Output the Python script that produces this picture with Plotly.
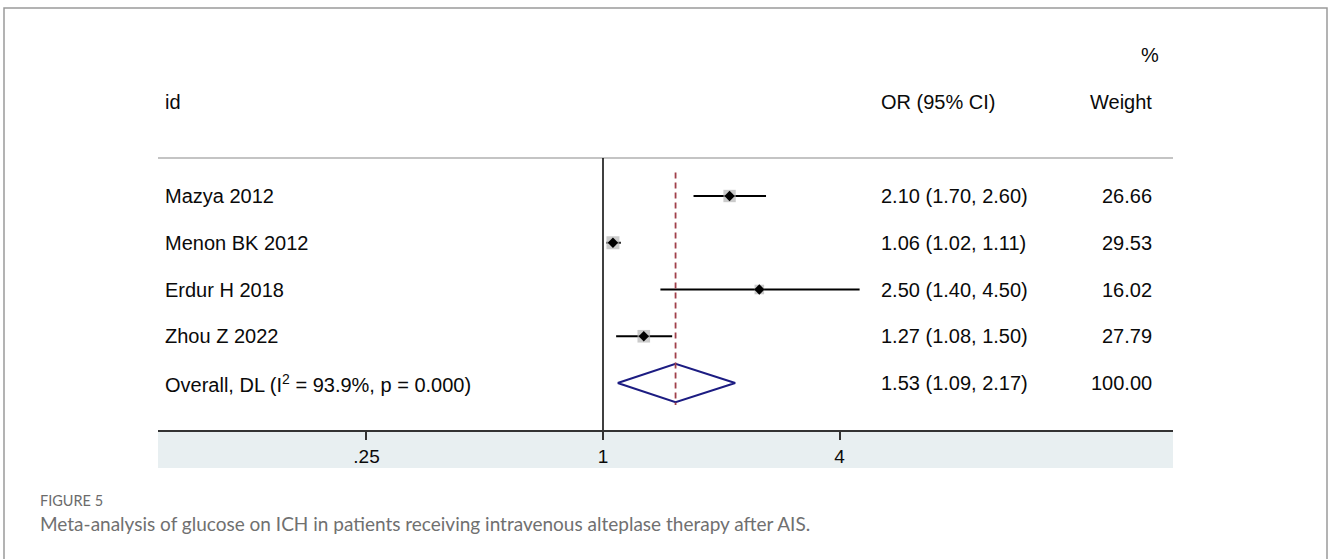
import math
import plotly.graph_objects as go

# ---------------- data ----------------
studies = ["Mazya 2012", "Menon BK 2012", "Erdur H 2018", "Zhou Z 2022"]
or_est = [2.10, 1.06, 2.50, 1.27]
ci_low = [1.70, 1.02, 1.40, 1.08]
ci_high = [2.60, 1.11, 4.50, 1.50]
weights = [26.66, 29.53, 16.02, 27.79]

overall_label = "Overall, DL (I<sup>2</sup> = 93.9%, p = 0.000)"
overall_est = 1.53
overall_low = 1.09
overall_high = 2.17
overall_weight = 100.00

tick_vals = [0.25, 1, 4]
tick_text = [".25", "1", "4"]

caption_head = "FIGURE 5"
caption_text = "Meta-analysis of glucose on ICH in patients receiving intravenous alteplase therapy after AIS."

# ---------------- geometry helpers ----------------
W, H = 1328, 559
def px(x):
    return x / W
def py(y):
    return 1 - y / H

FONT = "Liberation Sans, Arial, sans-serif"
TXT = "#0a0a0a"
CAP_FONT = "Lato, Open Sans, sans-serif"

rows = list(range(1, len(studies) + 1))
overall_row = len(studies) + 1

fig = go.Figure()

# CI lines
cx, cy = [], []
for r, lo, hi in zip(rows, ci_low, ci_high):
    cx += [lo, hi, None]
    cy += [r, r, None]
fig.add_trace(go.Scatter(x=cx, y=cy, mode="lines",
                         line=dict(color="#000000", width=2),
                         hoverinfo="skip", showlegend=False))

# weight boxes
fig.add_trace(go.Scatter(x=or_est, y=rows, mode="markers",
                         marker=dict(symbol="square", color="#b5b5b5",
                                     size=[2.39 * math.sqrt(w) for w in weights],
                                     line=dict(width=0)),
                         hoverinfo="skip", showlegend=False))
# point estimates
fig.add_trace(go.Scatter(x=or_est, y=rows, mode="markers",
                         marker=dict(symbol="diamond", color="#000000", size=8),
                         hoverinfo="skip", showlegend=False))

# overall diamond
h = 0.41
fig.add_trace(go.Scatter(
    x=[overall_low, overall_est, overall_high, overall_est, overall_low],
    y=[overall_row, overall_row - h, overall_row, overall_row + h, overall_row],
    mode="lines", line=dict(color="#1c1c82", width=2),
    hoverinfo="skip", showlegend=False))

shapes = []
# band under axis
shapes.append(dict(type="rect", xref="paper", yref="paper",
                   x0=px(158), x1=px(1173), y0=py(468), y1=py(430),
                   fillcolor="#e8eff1", line=dict(width=0), layer="below"))
# header separator
shapes.append(dict(type="line", xref="paper", yref="paper",
                   x0=px(158), x1=px(1173), y0=py(158), y1=py(158),
                   line=dict(color="#c4c4c4", width=2)))
# null line
shapes.append(dict(type="line", xref="x", yref="y domain",
                   x0=1, x1=1, y0=0, y1=1,
                   line=dict(color="#000000", width=1.5)))
# overall dashed line
shapes.append(dict(type="line", xref="x", yref="y",
                   x0=overall_est, x1=overall_est, y0=0.5, y1=overall_row + 0.47,
                   line=dict(color="#a0404a", width=1.8, dash="6px,4px")))
# outer frame
shapes.append(dict(type="rect", xref="paper", yref="paper",
                   x0=px(4), x1=px(1327), y0=-0.1, y1=py(8),
                   fillcolor="rgba(0,0,0,0)", line=dict(color="#9a9a9a", width=1.5)))

ann = []
def add_text(text, x, y, xanchor="left", size=20, color=TXT, family=FONT, yref="paper"):
    ann.append(dict(text=text, x=x, y=y, xref="paper", yref=yref,
                    xanchor=xanchor, yanchor="middle", showarrow=False,
                    font=dict(family=family, size=size, color=color)))

OR_X = 879
# headers
add_text("id", px(163), py(102))
add_text("OR (95% CI)", px(OR_X), py(102))
add_text("Weight", px(1154), py(102), xanchor="right")
add_text("%", px(1161), py(55), xanchor="right")

# rows
for r, s, e, lo, hi, w in zip(rows, studies, or_est, ci_low, ci_high, weights):
    add_text(s, px(163), r, yref="y")
    add_text(f"{e:.2f} ({lo:.2f}, {hi:.2f})", px(OR_X), r, yref="y")
    add_text(f"{w:.2f}", px(1154), r, xanchor="right", yref="y")
add_text(overall_label, px(163), overall_row, yref="y")
add_text(f"{overall_est:.2f} ({overall_low:.2f}, {overall_high:.2f})", px(OR_X), overall_row, yref="y")
add_text(f"{overall_weight:.2f}", px(1154), overall_row, xanchor="right", yref="y")

# caption
add_text(caption_head, px(38), py(500), size=14.5, color="#6b6b6b", family=CAP_FONT)
add_text(caption_text, px(38), py(523), size=19, color="#707070", family=CAP_FONT)

l2 = math.log10(2)
fig.update_layout(
    width=W, height=H, autosize=False,
    margin=dict(l=0, r=0, t=0, b=0),
    paper_bgcolor="white", plot_bgcolor="rgba(0,0,0,0)",
    shapes=shapes, annotations=ann,
    xaxis=dict(type="log", domain=[px(158), px(1173)],
               range=[-3.763 * l2, 4.820 * l2],
               tickvals=tick_vals, ticktext=tick_text,
               showgrid=False, zeroline=False,
               showline=True, linecolor="#333333", linewidth=2,
               ticks="outside", ticklen=8, tickwidth=1.5, tickcolor="#333333",
               tickfont=dict(family=FONT, size=19, color=TXT)),
    yaxis=dict(domain=[py(430), py(158)], range=[6.0053, 0.1872],
               visible=False, showgrid=False, zeroline=False),
)

fig.write_html("out.html")
